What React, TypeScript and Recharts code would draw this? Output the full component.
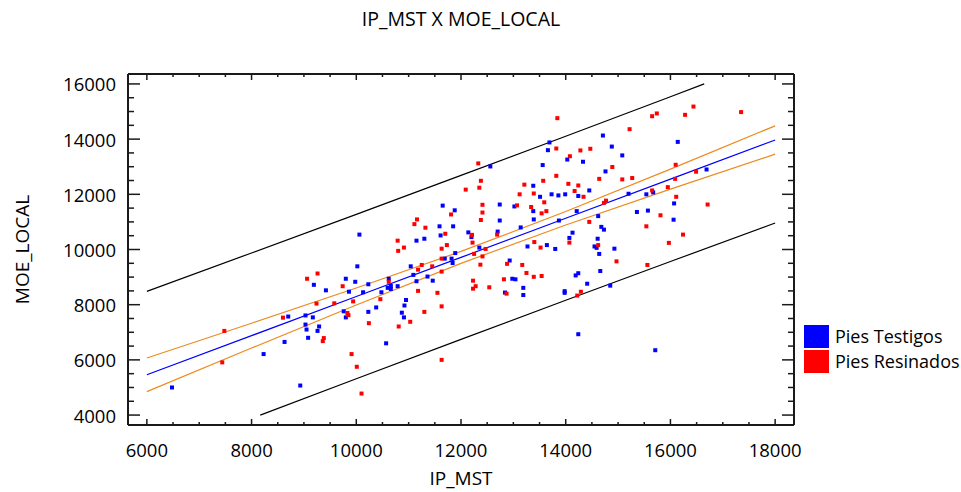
import React from 'react';
import { ScatterChart, Scatter, XAxis, YAxis, Label } from 'recharts';

// ---------- data ----------
const chartTitle = 'IP_MST X MOE_LOCAL';
const xTitle = 'IP_MST';
const yTitle = 'MOE_LOCAL';
const seriesNames = ['Pies Testigos', 'Pies Resinados'];
const seriesColors = ['#0000FF', '#FF0000'];

const xTicks = [6000, 6500, 7000, 7500, 8000, 8500, 9000, 9500, 10000, 10500, 11000, 11500, 12000, 12500, 13000, 13500, 14000, 14500, 15000, 15500, 16000, 16500, 17000, 17500, 18000];
const yTicks = [4000, 4500, 5000, 5500, 6000, 6500, 7000, 7500, 8000, 8500, 9000, 9500, 10000, 10500, 11000, 11500, 12000, 12500, 13000, 13500, 14000, 14500, 15000, 15500, 16000];

const piesTestigos: [number, number][] = [
  [12560, 13010], [13690, 13880], [13660, 13600], [13560, 13060], [13380, 12310], [13510, 11910],
  [11650, 11590], [11880, 11420], [12740, 11630], [12740, 11050], [13020, 11560], [13380, 11390],
  [13390, 11090], [11590, 10840], [11850, 10840], [10060, 10540], [11150, 10320], [11300, 10390],
  [11610, 10510], [12140, 10620], [12200, 10450], [12350, 10070], [12700, 10650], [13140, 10800],
  [13270, 10110], [13640, 10160], [14710, 14130], [14880, 13730], [15080, 13410], [16140, 13900],
  [14030, 13260], [14330, 13180], [14760, 12830], [16690, 12900], [14450, 12140], [15670, 12070],
  [15540, 12000], [15200, 12020], [13730, 12000], [13860, 11960], [13990, 12000], [14240, 11940],
  [16070, 11670], [14210, 11390], [15360, 11360], [15570, 11410], [14620, 11210], [13870, 11050],
  [16060, 11080], [14680, 10820], [14730, 10720], [14130, 10610], [14070, 10420], [14610, 10390],
  [14550, 10110], [14590, 10060], [13800, 10020], [14930, 10030], [9190, 8720], [9420, 8520],
  [8700, 7570], [9030, 7610], [9170, 7540], [9030, 7280], [9290, 7210], [9050, 7100],
  [9260, 7050], [9080, 6800], [8630, 6650], [8230, 6210], [6480, 5000], [8930, 5070],
  [10020, 9390], [9800, 8940], [9860, 8470], [9980, 8830], [10130, 8450], [10230, 8740],
  [9760, 7760], [9800, 7540], [10230, 7740], [10380, 7900], [10480, 8450], [10620, 8940],
  [10600, 8610], [10660, 8680], [10660, 8570], [10790, 8670], [10950, 8170], [10920, 7970],
  [10870, 7710], [10910, 7540], [10570, 6600], [11460, 8870], [11360, 9020], [11150, 8850],
  [11090, 9080], [11040, 9390], [11690, 9670], [11820, 9670], [11840, 9510], [11890, 9870],
  [12930, 9600], [12980, 8940], [13040, 8920], [12840, 8440], [13190, 8610], [13190, 8350],
  [14640, 9840], [14660, 9220], [14240, 9140], [14190, 9060], [14410, 8760], [14850, 8690],
  [13980, 8490], [13980, 8430], [14240, 6930], [15710, 6350],
];

const piesResinados: [number, number][] = [
  [12330, 13120], [12380, 12490], [12350, 12240], [12090, 12170], [13210, 12350], [13120, 12000],
  [13390, 12030], [13570, 12490], [13590, 11710], [11810, 11270], [12410, 11620], [12410, 11340],
  [12380, 11070], [13070, 11600], [13340, 11540], [13540, 11310], [11160, 11090], [11110, 10920],
  [11320, 10790], [10790, 10320], [10910, 10070], [11700, 10570], [11730, 10160], [11630, 10030],
  [12210, 10530], [12220, 10250], [12470, 10020], [12690, 10540], [13400, 10270], [13520, 10070],
  [13840, 14760], [13820, 13660], [15220, 14360], [15650, 14830], [15740, 14930], [16280, 14880],
  [16440, 15180], [17350, 14980], [14280, 13590], [14470, 13650], [14080, 13380], [14890, 12990],
  [13820, 12670], [14640, 12560], [15080, 12540], [15270, 12590], [16100, 13070], [16090, 12560],
  [16490, 12820], [14050, 12380], [14240, 12320], [14170, 12120], [15950, 12260], [15650, 12140],
  [14340, 11910], [16110, 11910], [14730, 11690], [14770, 11770], [16710, 11630], [13630, 11390],
  [15810, 11240], [14450, 11000], [15540, 10840], [16240, 10540], [14070, 10250], [14620, 10160],
  [15970, 10240], [9060, 8940], [9260, 9130], [9240, 8040], [9580, 8050], [8600, 7530],
  [9380, 6790], [9360, 6680], [7480, 7050], [7440, 5910], [10800, 9950], [9740, 8670],
  [9940, 8120], [9830, 7700], [9850, 7620], [10240, 7330], [10460, 8200], [10620, 8830],
  [11030, 7380], [10810, 7210], [9910, 6210], [10010, 5750], [10100, 4780], [11630, 6000],
  [11300, 7740], [11630, 7940], [11550, 8430], [11180, 8500], [11180, 9270], [11250, 9440],
  [11450, 9390], [11630, 9200], [11630, 9670], [12250, 9840], [12410, 9750], [12370, 9450],
  [12230, 8870], [12230, 8580], [12280, 8670], [12540, 8630], [12820, 8920], [12880, 9480],
  [12870, 8400], [13170, 9440], [13250, 9150], [13390, 9010], [13540, 9040], [14970, 9570],
  [15560, 9440], [14290, 8470], [14220, 8330],
];

// regression fit and bands
const fitX = [6000, 8000, 10000, 12000, 14000, 16000, 18000];
const fitY = [5460, 6878, 8296, 9714, 11132, 12550, 13968];
const confUpperY = [6069, 7328, 8604, 9930, 11375, 12913, 14482];
const confLowerY = [4851, 6428, 7988, 9498, 10889, 12187, 13454];
const predUpperX = [6000, 8000, 10000, 12000, 14000, 16000, 16645];
const predUpperY = [8484, 9875, 11275, 12685, 14105, 15535, 16000];
const predLowerX = [8166, 10000, 12000, 14000, 16000, 18000];
const predLowerY = [4000, 5317, 6743, 8159, 9565, 10959];

// ---------- layout ----------
const W = 961;
const H = 492;
const FONT = "'Open Sans', sans-serif";
const FRAME = '#1a1a1a';
const X_DOMAIN = [5640, 18360];
const Y_DOMAIN = [3640, 16360];

const toPts = (xs: number[], ys: number[]) => xs.map((x, i) => ({ x, y: ys[i] }));
const pairPts = (arr: [number, number][]) => arr.map(([x, y]) => ({ x, y }));

const isMajor = (v: number) => v % 2000 === 0;

const BottomTick = (props: any) => {
  const { x, y, payload } = props;
  const v = payload.value;
  const m = isMajor(v);
  return (
    <g>
      <line x1={x} x2={x} y1={y} y2={y - (m ? 6 : 3)} stroke={FRAME} strokeWidth={1.5} />
      {m && (
        <text x={x} y={y + 24} textAnchor="middle" dominantBaseline="central" fontFamily={FONT} fontSize={18.5} fill="#000">
          {v}
        </text>
      )}
    </g>
  );
};

const TopTick = (props: any) => {
  const { x, y, payload } = props;
  const m = isMajor(payload.value);
  return <line x1={x} x2={x} y1={y} y2={y + (m ? 6 : 3)} stroke={FRAME} strokeWidth={1.5} />;
};

const LeftTick = (props: any) => {
  const { x, y, payload } = props;
  const v = payload.value;
  const m = isMajor(v);
  return (
    <g>
      <line x1={x} x2={x + (m ? 12 : 6)} y1={y} y2={y} stroke={FRAME} strokeWidth={1.5} />
      {m && (
        <text x={x - 12} y={y} textAnchor="end" dominantBaseline="central" fontFamily={FONT} fontSize={18.5} fill="#000">
          {v}
        </text>
      )}
    </g>
  );
};

const RightTick = (props: any) => {
  const { x, y, payload } = props;
  const m = isMajor(payload.value);
  return <line x1={x} x2={x - (m ? 12 : 6)} y1={y} y2={y} stroke={FRAME} strokeWidth={1.5} />;
};

const makeSquare = (color: string) => (props: any) => {
  const { cx, cy } = props;
  if (cx == null || cy == null) return <g />;
  return <rect x={cx - 2} y={cy - 2} width={4} height={4} fill={color} />;
};

const NoShape = () => <g />;

export default function App() {
  const axisLine = { stroke: FRAME, strokeWidth: 2 };
  return (
    <div style={{ position: 'absolute', left: 0, top: 0, width: W, height: H, overflow: 'hidden', background: '#fff' }}>
      <ScatterChart width={W} height={H} margin={{ top: 73, right: 166, bottom: 27, left: 68 }}>
        <XAxis
          type="number"
          dataKey="x"
          domain={X_DOMAIN}
          allowDataOverflow
          ticks={xTicks}
          interval={0}
          tickLine={false}
          tickSize={0}
          tickMargin={0}
          axisLine={axisLine}
          tick={<BottomTick />}
          height={40}
        >
          <Label
            content={(p: any) => {
              const vb = p.viewBox || {};
              return (
                <text x={vb.x + vb.width / 2} y={478} textAnchor="middle" dominantBaseline="central" fontFamily={FONT} fontSize={19} fill="#000">
                  {xTitle}
                </text>
              );
            }}
          />
        </XAxis>
        <XAxis
          xAxisId="top"
          orientation="top"
          type="number"
          dataKey="x"
          domain={X_DOMAIN}
          allowDataOverflow
          ticks={xTicks}
          interval={0}
          tickLine={false}
          tickSize={0}
          tickMargin={0}
          axisLine={axisLine}
          tick={<TopTick />}
          height={1}
        >
          <Label
            content={(p: any) => {
              const vb = p.viewBox || {};
              return (
                <text x={vb.x + vb.width / 2} y={18} textAnchor="middle" dominantBaseline="central" fontFamily={FONT} fontSize={19.5} fill="#000">
                  {chartTitle}
                </text>
              );
            }}
          />
        </XAxis>
        <YAxis
          type="number"
          dataKey="y"
          domain={Y_DOMAIN}
          allowDataOverflow
          ticks={yTicks}
          interval={0}
          tickLine={false}
          tickSize={0}
          tickMargin={0}
          axisLine={axisLine}
          tick={<LeftTick />}
          width={60}
        >
          <Label
            content={(p: any) => {
              const vb = p.viewBox || {};
              const cy = vb.y + vb.height / 2;
              return (
                <text x={22} y={cy} textAnchor="middle" dominantBaseline="central" fontFamily={FONT} fontSize={19} fill="#000" transform={`rotate(-90 22 ${cy})`}>
                  {yTitle}
                </text>
              );
            }}
          />
        </YAxis>
        <YAxis
          yAxisId="right"
          orientation="right"
          type="number"
          dataKey="y"
          domain={Y_DOMAIN}
          allowDataOverflow
          ticks={yTicks}
          interval={0}
          tickLine={false}
          tickSize={0}
          tickMargin={0}
          axisLine={axisLine}
          tick={<RightTick />}
          width={1}
        />

        <Scatter data={toPts(predUpperX, predUpperY)} line={{ stroke: '#000', strokeWidth: 1.2 }} shape={NoShape} legendType="none" isAnimationActive={false} />
        <Scatter data={toPts(predLowerX, predLowerY)} line={{ stroke: '#000', strokeWidth: 1.2 }} shape={NoShape} legendType="none" isAnimationActive={false} />
        <Scatter data={toPts(fitX, confUpperY)} line={{ stroke: '#EE8A1E', strokeWidth: 1.2 }} shape={NoShape} legendType="none" isAnimationActive={false} />
        <Scatter data={toPts(fitX, confLowerY)} line={{ stroke: '#EE8A1E', strokeWidth: 1.2 }} shape={NoShape} legendType="none" isAnimationActive={false} />
        <Scatter
          xAxisId="top"
          yAxisId="right"
          data={toPts(fitX, fitY)}
          line={{ stroke: '#0000FF', strokeWidth: 1.2 }}
          shape={NoShape}
          legendType="none"
          isAnimationActive={false}
        />

        <Scatter name={seriesNames[0]} data={pairPts(piesTestigos)} fill={seriesColors[0]} shape={makeSquare(seriesColors[0])} isAnimationActive={false} />
        <Scatter name={seriesNames[1]} data={pairPts(piesResinados)} fill={seriesColors[1]} shape={makeSquare(seriesColors[1])} isAnimationActive={false} />
      </ScatterChart>

      <div style={{ position: 'absolute', left: 804, top: 324, fontFamily: FONT, fontSize: 18, color: '#000' }}>
        {seriesNames.map((n, i) => (
          <div key={n} style={{ display: 'flex', alignItems: 'center', height: 25, whiteSpace: 'nowrap' }}>
            <div style={{ width: 25, height: 23, background: seriesColors[i], marginRight: 6 }} />
            <span style={{ lineHeight: '23px' }}>{n}</span>
          </div>
        ))}
      </div>
    </div>
  );
}
